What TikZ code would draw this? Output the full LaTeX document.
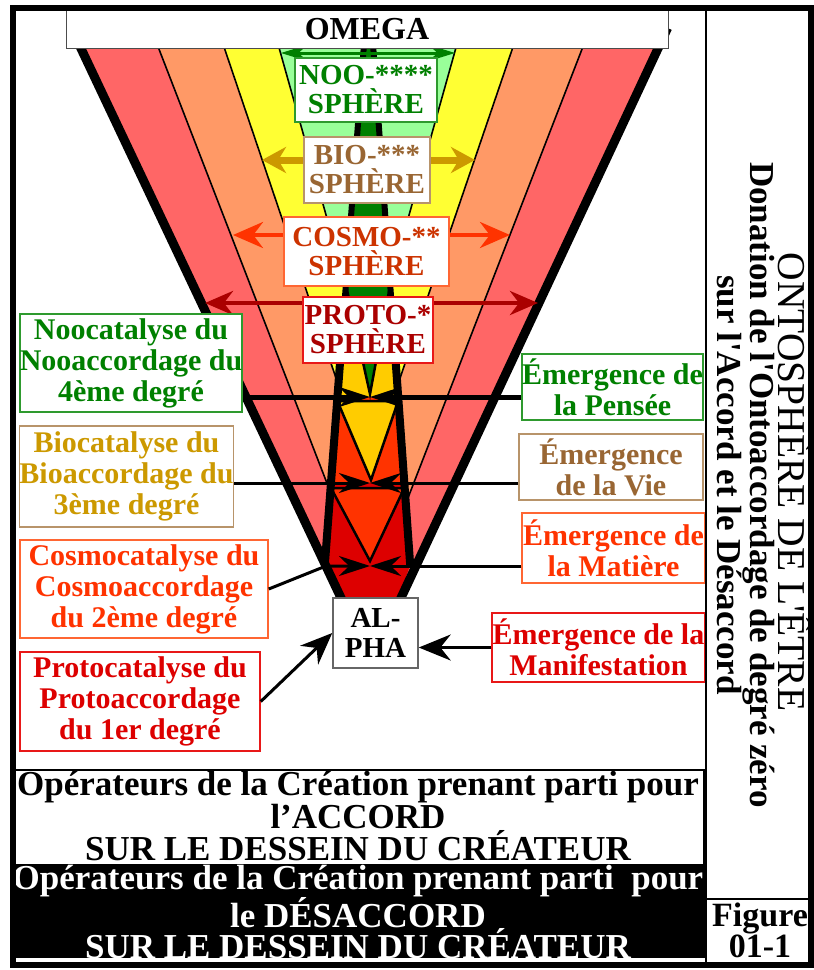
\documentclass[tikz,border=0pt]{standalone}
\usepackage{fontspec}
\setmainfont{Liberation Serif}
\usetikzlibrary{arrows.meta}

% colours of the bands and of the texts
\definecolor{salmon}{HTML}{FF6666}
\definecolor{peach}{HTML}{FF9966}
\definecolor{lemon}{HTML}{FFFF33}
\definecolor{mint}{HTML}{99FF99}
\definecolor{noogreen}{HTML}{008000}
\definecolor{nooline}{HTML}{2E9A2E}
\definecolor{biogold}{HTML}{FFCC00}
\definecolor{bioarrow}{HTML}{CC9900}
\definecolor{biobrown}{HTML}{996633}
\definecolor{biotan}{HTML}{B8946A}
\definecolor{cosmored}{HTML}{FF3300}
\definecolor{cosmotext}{HTML}{CC3300}
\definecolor{cosmoline}{HTML}{FF6633}
\definecolor{protored}{HTML}{DD0000}
\definecolor{prototext}{HTML}{AA0000}
\definecolor{protoline}{HTML}{E81818}

\newcommand{\sphfont}{\bfseries\fontsize{29}{29}\selectfont}
\newcommand{\sidefont}{\bfseries\fontsize{30}{31}\selectfont}
\newcommand{\bandfont}{\bfseries\fontsize{35}{30}\selectfont}

\begin{document}
\begin{tikzpicture}[x=1pt,y=-1pt,
    spherebox/.style={draw,fill=white,line width=1.5pt,inner sep=0pt,align=center,font=\sphfont},
    sidebox/.style={draw,fill=white,line width=1.5pt,inner sep=0pt,align=center,font=\sidefont},
    bandline/.style={line width=1.6pt},
    coreline/.style={line width=#1,-{Stealth[length=31pt,width=20pt]}},
    dblarrow/.style n args={3}{line width=#1,{Stealth[length=#2,width=#3]}-{Stealth[length=#2,width=#3]}},
    alphaarrow/.style={line width=3pt,-{Stealth[length=32pt,width=26pt]}}]

\useasboundingbox (0,0) rectangle (814,970);

% Funnel: outer salmon band, then peach, lemon and mint bands
\fill[salmon] (77,40) -- (662,40) -- (400,600) -- (342,600) -- cycle;
\fill[peach] (157,44) -- (584,44) -- (406,503) -- (330,491) -- cycle;
\fill[lemon] (223,44) -- (514,44) -- (397,387) -- (338,384) -- cycle;
\fill[mint] (278,44) -- (457,44) -- (390,283) -- (346,286) -- cycle;

% band borders, running into the core
\draw[bandline] (157,44) -- (330,491)  (584,44) -- (406,503)
                (223,44) -- (338,384)  (514,44) -- (397,387)
                (278,44) -- (346,286)  (457,44) -- (390,283);

% Core column, one section per sphere
\fill[noogreen] (364,44) -- (373,44) -- (390.2,285) -- (345.9,285) -- cycle;
\fill[biogold] (345.9,285) -- (390.2,285) -- (398.2,397) -- (337.4,397) -- cycle;
\fill[cosmored] (337.4,397) -- (398.2,397) -- (404.3,483) -- (331,483) -- cycle;
\fill[protored] (331,483) -- (404.3,483) -- (410.2,565) -- (398,600)
                -- (342,600) -- (324.8,565) -- cycle;

% inverted triangles of the upper sphere
\filldraw[fill=noogreen,line width=2.5pt] (345.9,285) -- (390.2,285) -- (370,394) -- cycle;
\filldraw[fill=biogold,line width=2.5pt] (337.4,401) -- (398.2,401) -- (371,480) -- cycle;
\filldraw[fill=cosmored,line width=2.5pt] (331,488) -- (404.3,488) -- (370,561) -- cycle;

% column edges
\draw[line width=6pt] (364,44) -- (324.8,565)  (373,44) -- (410.2,565);
\draw[line width=8pt] (340.6,355) -- (324.8,565)  (395.2,355) -- (410.2,565);

% outer edges of the funnel
\draw[line width=9pt] (71.3,28) -- (342,600)  (667.6,28) -- (400,600);

% Double arrows across the spheres
\coordinate (nooL) at (281,53);   \coordinate (nooR) at (455,53);
\coordinate (bioL) at (262,160);  \coordinate (bioR) at (475,160);
\coordinate (cosL) at (233,235);  \coordinate (cosR) at (510,235);
\coordinate (proL) at (205,303);  \coordinate (proR) at (538,303);
\draw[noogreen,dblarrow={3pt}{26pt}{16pt}] (nooL) -- (nooR);
\draw[bioarrow,dblarrow={7pt}{24pt}{26pt}] (bioL) -- (bioR);
\draw[cosmored,dblarrow={4pt}{30pt}{26pt}] (cosL) -- (cosR);
\draw[prototext,dblarrow={4.5pt}{28pt}{24pt}] (proL) -- (proR);

% Sphere labels
\node[spherebox,draw=nooline,text=noogreen,minimum width=142pt,minimum height=64pt]
  (noo) at (366,90) {NOO-****\\SPHÈRE};
\node[spherebox,draw=biotan,text=biobrown,minimum width=126pt,minimum height=66pt]
  (bio) at (367,170) {BIO-***\\SPHÈRE};
\node[spherebox,draw=cosmoline,text=cosmotext,minimum width=165pt,minimum height=69pt]
  (cosmo) at (366.5,251.5) {COSMO-**\\SPHÈRE};
\node[spherebox,draw=protoline,text=prototext,minimum width=130pt,minimum height=66pt]
  (proto) at (368,330) {PROTO-*\\SPHÈRE};

% Catalyse labels (left)
\node[sidebox,draw=nooline,text=noogreen,minimum width=222pt,minimum height=98pt]
  (noocat) at (131,363) {Noocatalyse du\\Nooaccordage du\\4ème degré};
\node[sidebox,draw=biotan,text=bioarrow,minimum width=213pt,minimum height=101pt]
  (biocat) at (126.5,476.5) {Biocatalyse du\\Bioaccordage du\\3ème degré};
\node[sidebox,draw=cosmoline,text=cosmored,minimum width=248pt,minimum height=98pt]
  (cosmocat) at (144,589) {Cosmocatalyse du\\Cosmoaccordage\\du 2ème degré};
\node[sidebox,draw=protoline,text=protored,minimum width=240pt,minimum height=99pt]
  (protocat) at (140,701.5) {Protocatalyse du\\Protoaccordage\\du 1er degré};

% Emergence labels (right)
\node[sidebox,draw=nooline,text=noogreen,minimum width=181pt,minimum height=66pt]
  (pensee) at (612.5,387) {Émergence de\\la Pensée};
\node[sidebox,draw=biotan,text=biobrown,minimum width=184pt,minimum height=66pt]
  (vie) at (611,467) {Émergence\\de la Vie};
\node[sidebox,draw=cosmoline,text=cosmored,minimum width=183pt,minimum height=70pt]
  (matiere) at (613.5,548) {Émergence de\\la Matière};
\node[sidebox,draw=protoline,text=protored,minimum width=213pt,minimum height=69pt]
  (manif) at (598.5,647.5) {Émergence de la\\Manifestation};

% Horizontal lines into the core
\coordinate (mid4) at (370,397);
\coordinate (mid3) at (370,483);
\coordinate (mid2) at (370,566);
\coordinate (bend2) at (326,566);
\draw[coreline=5pt] (noocat.east |- mid4) -- (mid4);
\draw[coreline=5pt] (pensee.west |- mid4) -- (mid4);
\draw[coreline=3pt] (biocat.east |- mid3) -- (mid3);
\draw[coreline=3pt] (vie.west |- mid3) -- (mid3);
\draw[coreline=3pt] (cosmocat.east) -- (bend2) -- (mid2);
\draw[coreline=3pt] (matiere.west |- mid2) -- (mid2);

% Omega and Alpha
\node[draw=black!70,fill=white,line width=1pt,minimum width=602pt,minimum height=38pt,
  inner sep=0pt,font=\bfseries\fontsize{32}{32}\selectfont] (omega) at (367,29) {OMEGA};
\node[draw=black!60,fill=white,line width=1.5pt,minimum width=85pt,minimum height=70pt,
  inner sep=0pt,align=center,font=\bfseries\fontsize{29}{30}\selectfont] (alpha) at (375.5,633) {AL-\\PHA};
\draw[alphaarrow] (protocat.east) -- (alpha.west);
\draw[alphaarrow] (manif.west) -- (alpha.east |- manif.west);

% Bottom bands: accord and desaccord
\draw[line width=2pt] (13,770) rectangle (704,865);
\node[font=\bandfont,align=center,inner sep=0pt] (accord) at (358,816)
  {Opérateurs de la Création prenant parti pour\\l’ACCORD\\SUR LE DESSEIN DU CRÉATEUR};
\fill[black] (13,865) rectangle (706,958);
\node[font=\bandfont,align=center,inner sep=0pt,text=white] (desaccord) at (358,912)
  {Opérateurs de la Création prenant parti\ \ pour\\le DÉSACCORD\\SUR LE DESSEIN DU CRÉATEUR};

% Right column
\draw[line width=1.5pt] (706,8) -- (706,965);
\draw[line width=2pt] (706,899) -- (811,899);
\node[font=\bfseries\fontsize{34}{31}\selectfont,align=center] (figno) at (760,930) {Figure\\01-1};
\node[rotate=-90,font=\fontsize{39.5}{40}\selectfont] (title) at (795,482)
  {ONTOSPHÈRE DE L\textquotesingle ÊTRE};
\node[rotate=-90,align=center,font=\bandfont] (donation) at (746,485)
  {Donation de l\textquotesingle Ontoaccordage de degré zéro\\sur l\textquotesingle Accord et le Désaccord};

% Frame
\draw[line width=6pt] (13,8) rectangle (811,965);

\end{tikzpicture}
\end{document}
